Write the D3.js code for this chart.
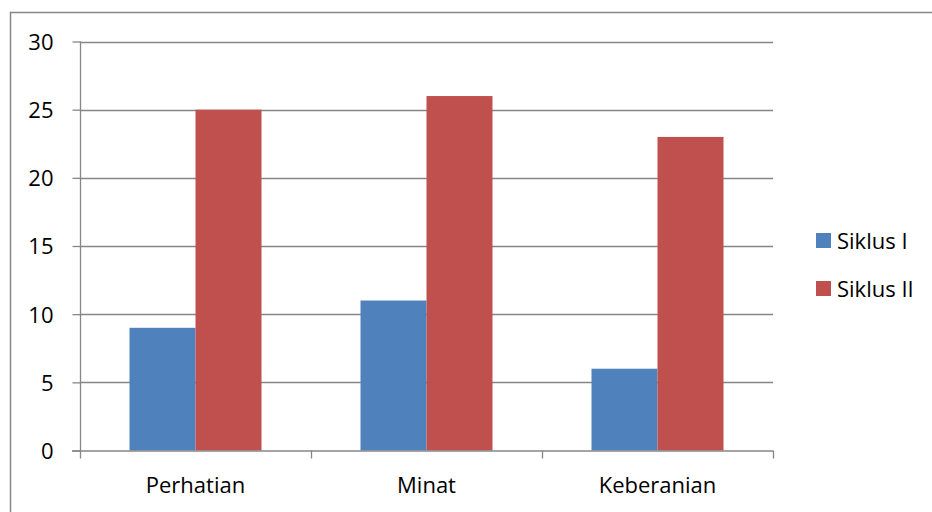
<!DOCTYPE html>
<html><head><meta charset="utf-8">
<script src="https://cdn.jsdelivr.net/npm/d3@7"></script>
<style>html,body{margin:0;padding:0;background:#fff;}svg{display:block;}</style>
</head><body>
<svg id="chart" width="932" height="512"></svg>
<script>
const categories = ["Perhatian", "Minat", "Keberanian"];
const seriesNames = ["Siklus I", "Siklus II"];
const siklus1 = [9, 11, 6];
const siklus2 = [25, 26, 23];
const yTicks = [0, 5, 10, 15, 20, 25, 30];
const colors = ["#4F81BD", "#C0504D"];

const FONT = "'Open Sans', sans-serif";
const FS = 22;
const svg = d3.select("#chart");
const pLeft = 80, pRight = 773, pTop = 41.5, pBottom = 450.5;

svg.append("rect").attr("x", 10.5).attr("y", 12.5).attr("width", 940).attr("height", 520)
  .attr("fill", "#fff").attr("stroke", "#868686").attr("stroke-width", 1.5);

const x = d3.scaleBand().domain(categories).range([pLeft, pRight]).paddingInner(0).paddingOuter(0);
const xs = d3.scaleBand().domain(seriesNames).range([0, x.bandwidth()]).paddingInner(0).paddingOuter(0.75);
const y = d3.scaleLinear().domain([0, 30]).range([pBottom, pTop]);

// gridlines
svg.append("g").selectAll("line").data(yTicks.filter(d => d > 0)).join("line")
  .attr("x1", pLeft).attr("x2", pRight)
  .attr("y1", d => Math.round(y(d)) + 0.5).attr("y2", d => Math.round(y(d)) + 0.5)
  .attr("stroke", "#868686").attr("stroke-width", 1.3);

// bars
const data = categories.map((c, i) => ({c, vals: [siklus1[i], siklus2[i]]}));
const g = svg.append("g");
data.forEach(d => {
  d.vals.forEach((v, j) => {
    g.append("rect")
      .attr("x", x(d.c) + xs(seriesNames[j]))
      .attr("y", y(v))
      .attr("width", xs.bandwidth())
      .attr("height", pBottom - y(v))
      .attr("fill", colors[j]);
  });
});

// y axis
const yAxis = d3.axisLeft(y).tickValues(yTicks).tickSize(8).tickPadding(10);
const ya = svg.append("g").attr("transform", `translate(${pLeft + 0.5},0)`).call(yAxis);
ya.select(".domain").attr("stroke", "#868686").attr("stroke-width", 1.3).attr("d", `M0,${pTop}V${pBottom}`);
ya.selectAll(".tick line").attr("stroke", "#868686").attr("stroke-width", 1.3);
ya.selectAll(".tick text").attr("font-family", FONT).attr("font-size", FS).attr("fill", "#000").attr("x", -27).attr("dy", "0.36em");

// x axis
const bounds = [pLeft, ...categories.map(c => x(c) + x.bandwidth())];
const xg = svg.append("g");
xg.append("line").attr("x1", pLeft - 8).attr("x2", pRight).attr("y1", pBottom + 0.5).attr("y2", pBottom + 0.5)
  .attr("stroke", "#868686").attr("stroke-width", 1.3);
xg.selectAll("line.t").data(bounds).join("line").attr("class", "t")
  .attr("x1", d => Math.round(d) + 0.5).attr("x2", d => Math.round(d) + 0.5)
  .attr("y1", pBottom).attr("y2", pBottom + 8)
  .attr("stroke", "#868686").attr("stroke-width", 1.3);
xg.selectAll("text").data(categories).join("text")
  .attr("x", d => x(d) + x.bandwidth() / 2).attr("y", 493)
  .attr("text-anchor", "middle").attr("font-family", FONT).attr("font-size", FS).attr("fill", "#000")
  .text(d => d);

// legend
const lg = svg.append("g");
seriesNames.forEach((s, i) => {
  lg.append("rect").attr("x", 816).attr("y", 233 + i * 48).attr("width", 15).attr("height", 15).attr("fill", colors[i]);
  lg.append("text").attr("x", 837).attr("y", 249 + i * 48).attr("font-family", FONT).attr("font-size", FS).attr("fill", "#000").text(s);
});
</script>
</body></html>
